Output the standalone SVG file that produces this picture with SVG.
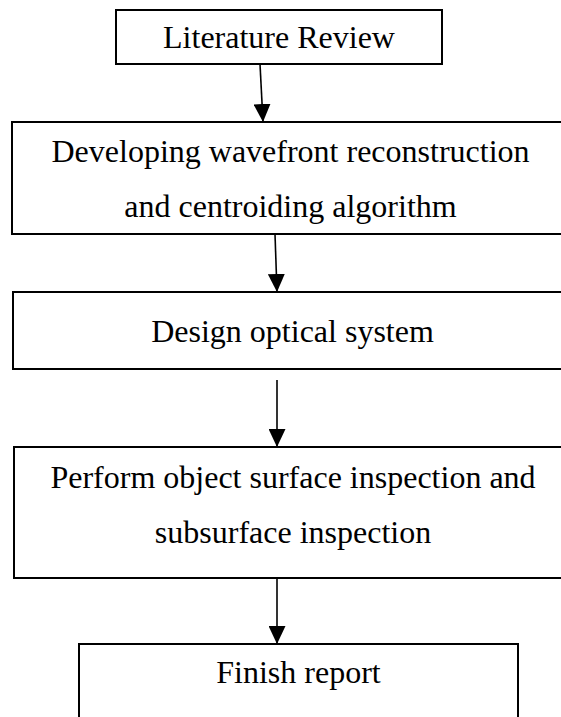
<svg xmlns="http://www.w3.org/2000/svg" width="561" height="717" viewBox="0 0 561 717">
  <style>
    .box { fill: #ffffff; stroke: #000000; stroke-width: 2; }
    .lbl { font-family: "Liberation Serif", "Times New Roman", serif; font-size: 32px; fill: #000000; text-anchor: middle; }
    .conn { stroke: #000000; stroke-width: 1.6; fill: none; }
  </style>
  <defs>
    <marker id="arrow" viewBox="0 0 18 17" refX="18" refY="8.5" markerWidth="18" markerHeight="17" markerUnits="userSpaceOnUse" orient="auto">
      <path d="M0,0 L18,8.5 L0,17 Z" fill="#000000"/>
    </marker>
  </defs>
  <rect x="0" y="0" width="561" height="717" fill="#ffffff"/>

  <g id="node-literature-review">
    <rect class="box" x="116" y="10" width="326" height="54"/>
    <text class="lbl" x="279" y="48">Literature Review</text>
  </g>

  <g id="node-developing-algorithm">
    <rect class="box" x="12" y="122" width="557" height="112"/>
    <text class="lbl" x="290.5" y="162">Developing wavefront reconstruction</text>
    <text class="lbl" x="290.5" y="217">and centroiding algorithm</text>
  </g>

  <g id="node-design-optical">
    <rect class="box" x="13" y="292" width="559" height="77"/>
    <text class="lbl" x="292.5" y="342">Design optical system</text>
  </g>

  <g id="node-inspection">
    <rect class="box" x="14" y="447" width="558" height="131"/>
    <text class="lbl" x="293" y="488">Perform object surface inspection and</text>
    <text class="lbl" x="293" y="543">subsurface inspection</text>
  </g>

  <g id="node-finish-report">
    <rect class="box" x="79" y="644" width="439" height="90"/>
    <text class="lbl" x="298.5" y="683">Finish report</text>
  </g>

  <g id="connectors">
    <line class="conn" x1="260" y1="64" x2="263" y2="122" marker-end="url(#arrow)"/>
    <line class="conn" x1="275" y1="234" x2="277" y2="292" marker-end="url(#arrow)"/>
    <line class="conn" x1="277" y1="380" x2="277" y2="447" marker-end="url(#arrow)"/>
    <line class="conn" x1="277" y1="578" x2="277" y2="644" marker-end="url(#arrow)"/>
  </g>
</svg>
